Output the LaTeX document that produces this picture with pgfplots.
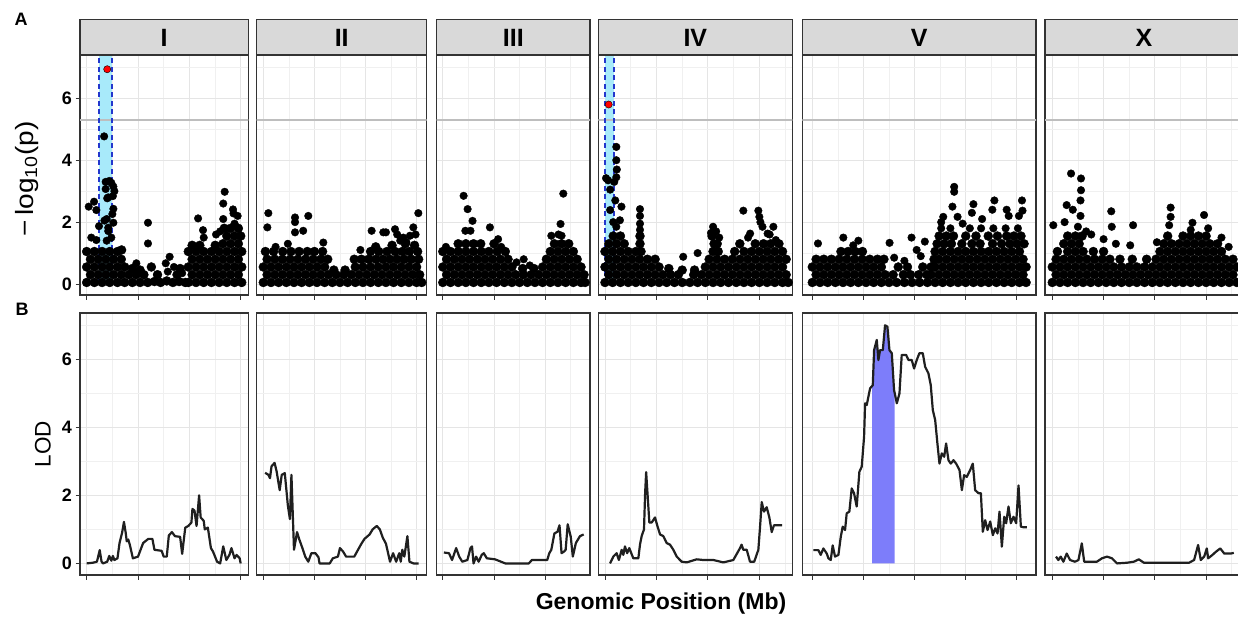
\documentclass[border=0pt]{standalone}
\usepackage{fontspec}
\setmainfont{Liberation Sans}
\usepackage{pgfplots}
\pgfplotsset{compat=1.18}
\definecolor{cyanfill}{RGB}{168,234,250}
\definecolor{dashblue}{RGB}{35,55,205}
\definecolor{lodfill}{RGB}{125,125,250}
\definecolor{thrgray}{RGB}{190,190,190}
\pgfplotsset{
 panel/.style={
  scale only axis, clip=true,
  axis line style={draw=black!80, line width=1.4pt},
  grid=both,
  major grid style={draw=black!10, line width=0.9pt},
  minor grid style={draw=black!6, line width=0.6pt},
  xtick={0,5,10,15,20}, minor xtick={2.5,7.5,12.5,17.5,22.5},
  xticklabels={,,,,,},
  ytick={0,2,4,6}, minor ytick={1,3,5,7},
  xtick pos=bottom, ytick pos=left,
  tick align=outside,
  major tick length=4.5pt, minor tick length=0pt,
  every tick/.style={draw=black!80, line width=0.9pt},
  tick label style={font=\bfseries\fontsize{18}{18}\selectfont, text=black},
 },
 toppanel/.style={panel, height=240pt, ymin=-0.355, ymax=7.4},
 botpanel/.style={panel, height=262pt, ymin=-0.34, ymax=7.35},
 firstcol/.style={yticklabels={0,2,4,6}},
 othercol/.style={ymajorticks=false},
 blob/.style={only marks, mark=*, mark size=4.5pt, mark options={draw=none, fill=black}},
 dots/.style={only marks, mark=*, mark size=3.8pt, mark options={draw=none, fill=black}},
 reddot/.style={only marks, mark=*, mark size=3.6pt, mark options={draw=none, fill=red}},
 lod/.style={mark=none, draw=black!88, line width=2.2pt, line join=round},
 thr/.style={mark=none, draw=thrgray, line width=1.8pt},
 dsh/.style={mark=none, draw=dashblue, line width=2pt, dash pattern=on 5pt off 3.5pt},
}
\newcommand{\strip}[4]{%
 \draw[fill=black!15, draw=black!80, line width=1.4pt] (#1pt,-19.5pt) rectangle (#2pt,-55pt);
 \node[font=\bfseries\fontsize{25}{25}\selectfont] at (#3pt,-37.5pt) {#4};}
\begin{document}
\begin{tikzpicture}
\path[use as bounding box] (0pt,0pt) rectangle (1238pt,-617pt);
%%%%%%%%%%%%%%%% TOP ROW %%%%%%%%%%%%%%%%
% I
\begin{axis}[toppanel, firstcol, at={(80pt,-55pt)}, anchor=north west, width=168.3pt, xmin=-0.65, xmax=15.74]
\addplot[fill=cyanfill, draw=none, mark=none] coordinates {(1.2,0)(2.5,0)(2.5,9)(1.2,9)};
\addplot[thr] coordinates {(-2,5.3)(25,5.3)};
\addplot[dsh] coordinates {(1.2,0)(1.2,9)};
\addplot[dsh] coordinates {(2.5,0)(2.5,9)};
\addplot[blob] coordinates {
(0,0.05)(0.75,0.05)(1.5,0.05)(2.25,0.05)(3,0.05)(3.7,0.05)(4.45,0.05)(5.2,0.05)(5.95,0.05)(6.6,0.08)(7.2,0.05)(7.8,0.1)(8.4,0.05)(9,0.08)(9.6,0.05)(9.9,0.05)(10.65,0.05)(11.4,0.05)(12.15,0.05)(12.9,0.05)(13.65,0.05)(14.4,0.05)(15.1,0.05)
(0.37,0.3)(1.12,0.3)(1.87,0.3)(2.62,0.3)(3.37,0.3)(4.1,0.3)(4.82,0.3)(5.57,0.3)(6.9,0.3)(8.8,0.3)(10.27,0.3)(11.02,0.3)(11.77,0.3)(12.52,0.3)(13.27,0.3)(14.02,0.3)(14.77,0.3)
(0,0.55)(0.75,0.55)(1.5,0.55)(2.25,0.55)(3,0.55)(3.7,0.55)(4.45,0.5)(5.2,0.45)(6.3,0.55)(9.1,0.5)(9.9,0.55)(10.65,0.55)(11.4,0.55)(12.15,0.55)(12.9,0.55)(13.65,0.55)(14.4,0.55)(15.1,0.55)
(0.37,0.8)(1.12,0.8)(1.87,0.8)(2.62,0.8)(3.37,0.8)(10.27,0.8)(11.02,0.8)(11.77,0.8)(12.52,0.8)(13.27,0.8)(14.02,0.8)(14.77,0.8)
(0,1.05)(0.75,1.05)(1.5,1.05)(2.25,1.05)(3,1.05)(3.4,1.1)(9.9,1.05)(10.65,1.05)(11.4,1.05)(12.15,1.05)(12.9,1.05)(13.65,1.05)(14.4,1.05)(15.1,1.05)
(10.27,1.25)(11.02,1.25)(12.52,1.25)(13.27,1.3)(14.02,1.3)(14.77,1.3)(13.65,1.55)(14.4,1.55)(15,1.55)(13.4,1.8)(14.02,1.8)(14.77,1.8)
};
\addplot[dots] coordinates {
(7.9,0.4)(9.3,0.35)(8.08,0.88)(7.7,0.67)(4.84,0.67)(5.97,1.98)(5.97,1.31)(8.5,0.55)
(0.72,2.66)(0.94,2.39)(0.2,2.5)(1.2,1.87)(0.45,1.5)(0.94,1.42)(1.7,4.77)(1.85,3.3)(2.2,3.33)(2.4,3.27)(2.6,3.15)(2.7,3)(2.55,2.84)(2.1,2.8)(1.85,3.07)(2,2.77)(2.6,2.43)(2.5,2.26)(1.95,2.1)(1.73,2.05)(2.1,1.82)(2.6,1.98)(2.1,1.71)(1.95,1.4)(2.4,1.5)(10.85,2.12)(11.33,1.74)(11.4,1.5)(13.44,2.98)(13.3,2.6)(14.25,2.41)(14.3,2.28)(13.3,2.1)(14.4,1.95)(14.7,2.2)(12.6,1.6)(13,1.7)
};
\addplot[reddot] coordinates {(2.0,6.94)};
\end{axis}
% II
\begin{axis}[toppanel, othercol, at={(256.7pt,-55pt)}, anchor=north west, width=170pt, xmin=-0.65, xmax=15.99]
\addplot[thr] coordinates {(-2,5.3)(25,5.3)};
\addplot[blob] coordinates {
(0,0.05)(0.75,0.05)(1.5,0.05)(2.25,0.05)(3,0.05)(3.75,0.05)(4.5,0.05)(5.25,0.05)(6,0.05)(6.75,0.05)(7.5,0.05)(8.25,0.05)(9,0.05)(9.75,0.05)(10.5,0.05)(11.25,0.05)(12,0.05)(12.75,0.05)(13.5,0.05)(14.25,0.05)(15,0.05)(15.5,0.05)
(0.37,0.3)(1.12,0.3)(1.87,0.3)(2.62,0.3)(3.37,0.3)(4.12,0.3)(4.87,0.3)(5.62,0.3)(6.37,0.3)(7.12,0.3)(7.87,0.3)(8.62,0.3)(9.37,0.3)(10.12,0.3)(10.87,0.3)(11.62,0.3)(12.37,0.3)(13.12,0.3)(13.87,0.3)(14.62,0.3)(15.3,0.3)
(0,0.55)(0.75,0.55)(1.5,0.55)(2.25,0.55)(3,0.55)(3.75,0.55)(4.5,0.55)(5.25,0.55)(6,0.55)(6.9,0.45)(8,0.45)(9,0.55)(9.75,0.55)(10.5,0.55)(11.25,0.55)(12,0.55)(12.75,0.55)(13.5,0.55)(14.25,0.55)(15,0.55)
(0.37,0.8)(1.12,0.8)(1.87,0.8)(2.62,0.8)(3.37,0.8)(4.12,0.8)(4.87,0.8)(5.62,0.8)(6.3,0.8)(8.9,0.8)(9.6,0.8)(10.3,0.8)(11,0.8)(11.7,0.8)(12.4,0.8)(13.1,0.8)(13.8,0.8)(14.5,0.8)(15.2,0.8)
(0.2,1.05)(1,1.05)(1.9,1.05)(2.7,1.05)(3.5,1.05)(4.3,1.05)(5,1.05)(5.8,1.05)(10.5,1.05)(11.3,1.05)(12.1,1.05)(12.9,1.05)(13.6,1.05)(14.3,1.05)(15.1,1.05)
(11,1.2)(12.6,1.25)(13.9,1.3)(14.8,1.25)
};
\addplot[dots] coordinates {
(0.49,2.29)(0.39,1.83)(3.1,2.15)(3.1,2)(3.1,1.67)(3.9,1.72)(4.4,2.2)(5.87,1.34)(2.4,1.3)(1.2,1.2)(10.6,1.72)(11.74,1.67)(12,1.67)(12.89,1.77)(13.1,1.6)(13.7,1.5)(14.35,1.56)(14.68,1.83)(14.9,1.6)(15.17,2.29)(13.4,1.4)(14,1.35)(9.5,1.1)
};
\end{axis}
% III
\begin{axis}[toppanel, othercol, at={(436.7pt,-55pt)}, anchor=north west, width=153.3pt, xmin=-0.6, xmax=14.38]
\addplot[thr] coordinates {(-2,5.3)(25,5.3)};
\addplot[blob] coordinates {
(0,0.05)(0.75,0.05)(1.5,0.05)(2.25,0.05)(3,0.05)(3.75,0.05)(4.5,0.05)(5.25,0.05)(6,0.05)(6.75,0.05)(7.5,0.05)(8.25,0.05)(9,0.05)(9.75,0.05)(10.5,0.05)(11.25,0.05)(12,0.05)(12.75,0.05)(13.5,0.05)(13.9,0.05)
(0.37,0.3)(1.12,0.3)(1.87,0.3)(2.62,0.3)(3.37,0.3)(4.12,0.3)(4.87,0.3)(5.62,0.3)(6.37,0.3)(7.12,0.3)(7.87,0.3)(8.62,0.3)(9.37,0.3)(10.12,0.3)(10.87,0.3)(11.62,0.3)(12.37,0.3)(13.12,0.3)(13.8,0.3)
(0,0.55)(0.75,0.55)(1.5,0.55)(2.25,0.55)(3,0.55)(3.75,0.55)(4.5,0.55)(5.25,0.55)(6,0.55)(6.75,0.55)(7.8,0.5)(8.9,0.5)(9.75,0.55)(10.5,0.55)(11.25,0.55)(12,0.55)(12.75,0.55)(13.5,0.55)
(0.37,0.8)(1.12,0.8)(1.87,0.8)(2.62,0.8)(3.37,0.8)(4.12,0.8)(4.87,0.8)(5.62,0.8)(6.37,0.8)(10.12,0.8)(10.87,0.8)(11.62,0.8)(12.37,0.8)(13.12,0.8)
(0,1.05)(0.75,1.05)(1.5,1.05)(2.25,1.05)(3,1.05)(3.75,1.05)(4.5,1.05)(5.3,1.05)(6.1,1.05)(10.5,1.05)(11.25,1.05)(12,1.05)(12.75,1.05)
(1.5,1.3)(2.25,1.3)(3,1.3)(3.7,1.3)(5,1.3)(10.9,1.3)(11.6,1.3)(12.3,1.3)
};
\addplot[dots] coordinates {
(2.03,2.85)(2.42,2.42)(2.9,2.04)(2.7,1.72)(2.2,1.72)(4.6,1.83)(5.4,1.45)(5.7,1.2)(7.9,0.8)(11.77,2.92)(11.5,1.94)(10.6,1.56)(11.6,1.56)(11.3,1.6)(0.3,1.2)(8.5,0.6)(7.2,0.7)
};
\end{axis}
% IV
\begin{axis}[toppanel, othercol, at={(598.3pt,-55pt)}, anchor=north west, width=194pt, xmin=-0.65, xmax=18.2]
\addplot[fill=cyanfill, draw=none, mark=none] coordinates {(0.03,0)(0.9,0)(0.9,9)(0.03,9)};
\addplot[thr] coordinates {(-2,5.3)(25,5.3)};
\addplot[dsh] coordinates {(0.03,0)(0.03,9)};
\addplot[dsh] coordinates {(0.9,0)(0.9,9)};
\addplot[blob] coordinates {
(0,0.05)(0.75,0.05)(1.5,0.05)(2.25,0.05)(3,0.05)(3.75,0.05)(4.5,0.05)(5.25,0.05)(6,0.05)(6.75,0.05)(7.5,0.05)(8.25,0.05)(9,0.05)(9.75,0.05)(10.5,0.05)(11.25,0.05)(12,0.05)(12.75,0.05)(13.5,0.05)(14.25,0.05)(15,0.05)(15.75,0.05)(16.5,0.05)(17.25,0.05)(17.8,0.05)
(0.37,0.3)(1.12,0.3)(1.87,0.3)(2.62,0.3)(3.37,0.3)(4.12,0.3)(4.87,0.3)(5.62,0.3)(6.37,0.3)(7.12,0.3)(8.62,0.3)(9.37,0.3)(10.12,0.3)(10.87,0.3)(11.62,0.3)(12.37,0.3)(13.12,0.3)(13.87,0.3)(14.62,0.3)(15.37,0.3)(16.12,0.3)(16.87,0.3)(17.6,0.3)
(0,0.55)(0.75,0.55)(1.5,0.55)(2.25,0.55)(3,0.55)(3.75,0.55)(4.5,0.55)(5.25,0.55)(6.2,0.5)(7.5,0.45)(8.7,0.45)(9.75,0.55)(10.5,0.55)(11.25,0.55)(12,0.55)(12.75,0.55)(13.5,0.55)(14.25,0.55)(15,0.55)(15.75,0.55)(16.5,0.55)(17.25,0.55)
(0.37,0.8)(1.12,0.8)(1.87,0.8)(2.62,0.8)(3.37,0.8)(4.12,0.8)(4.87,0.8)(10.12,0.8)(10.87,0.8)(11.62,0.8)(12.37,0.8)(13.12,0.8)(13.87,0.8)(14.62,0.8)(15.37,0.8)(16.12,0.8)(16.87,0.8)(17.6,0.8)
(0,1.05)(0.75,1.05)(1.5,1.05)(2.25,1.05)(3,1.05)(3.5,1.05)(10.5,1.05)(11,1.05)(12.6,1.05)(13.5,1.05)(14.25,1.05)(15,1.05)(15.75,1.05)(16.5,1.05)(17.25,1.05)
(0.37,1.3)(1.12,1.3)(1.87,1.3)(3.4,1.3)(10.6,1.3)(10.9,1.3)(13.1,1.3)(14.6,1.3)(15.4,1.3)(16.1,1.3)(16.9,1.3)
(0.8,1.55)(1.5,1.55)(3.4,1.55)(10.4,1.55)
};
\addplot[dots] coordinates {
(0.3,3.35)(0.5,3.05)(1.1,4.43)(1.1,4)(1.15,3.7)(1.1,3.45)(0.9,3.3)(0.1,3.42)(0.5,2.39)(1,2.7)(1.6,2.5)(1.45,2.06)(1.1,1.85)(0.8,2)(3.4,2.42)(3.4,2.2)(3.4,1.95)(3.4,1.75)(7.6,0.88)(9,1)(10.5,1.85)(10.8,1.7)(10.3,1.65)(11.1,1.5)(13.44,2.37)(14.9,2.37)(15,2.17)(15.1,2)(15.3,1.85)(16.36,1.85)(15.8,1.63)(16.6,1.42)(14.1,1.63)(13.9,1.5)(16,1.6)
};
\addplot[reddot] coordinates {(0.36,5.8)};
\end{axis}
% V
\begin{axis}[toppanel, othercol, at={(802.3pt,-55pt)}, anchor=north west, width=233.7pt, xmin=-0.98, xmax=21.87]
\addplot[thr] coordinates {(-2,5.3)(25,5.3)};
\addplot[blob] coordinates {
(0,0.05)(0.75,0.05)(1.5,0.05)(2.25,0.05)(3,0.05)(3.75,0.05)(4.5,0.05)(5.25,0.05)(6,0.05)(6.75,0.05)(7.5,0.05)(8.25,0.05)(9,0.05)(9.75,0.05)(10.5,0.05)(11.25,0.05)(12,0.05)(12.75,0.05)(13.5,0.05)(14.25,0.05)(15,0.05)(15.75,0.05)(16.5,0.05)(17.25,0.05)(18,0.05)(18.75,0.05)(19.5,0.05)(20.25,0.05)(20.9,0.05)
(0.37,0.3)(1.12,0.3)(1.87,0.3)(2.62,0.3)(3.37,0.3)(4.12,0.3)(4.87,0.3)(5.62,0.3)(6.37,0.3)(7.12,0.3)(7.9,0.3)(8.9,0.3)(9.6,0.3)(10.4,0.3)(11.2,0.3)(11.62,0.3)(12.37,0.3)(13.12,0.3)(13.87,0.3)(14.62,0.3)(15.37,0.3)(16.12,0.3)(16.87,0.3)(17.62,0.3)(18.37,0.3)(19.12,0.3)(19.87,0.3)(20.6,0.3)
(0,0.55)(0.75,0.55)(1.5,0.55)(2.25,0.55)(3,0.55)(3.75,0.55)(4.5,0.55)(5.25,0.55)(6,0.55)(6.75,0.55)(8.4,0.55)(9.3,0.55)(10.8,0.55)(11.6,0.55)(12,0.55)(12.75,0.55)(13.5,0.55)(14.25,0.55)(15,0.55)(15.75,0.55)(16.5,0.55)(17.25,0.55)(18,0.55)(18.75,0.55)(19.5,0.55)(20.25,0.55)(20.9,0.55)
(0.37,0.8)(1.12,0.8)(1.87,0.8)(2.62,0.8)(3.37,0.8)(4.12,0.8)(4.87,0.8)(5.62,0.8)(6.37,0.8)(7,0.8)(11.9,0.8)(12.37,0.8)(13.12,0.8)(13.87,0.8)(14.62,0.8)(15.37,0.8)(16.12,0.8)(16.87,0.8)(17.62,0.8)(18.37,0.8)(19.12,0.8)(19.87,0.8)(20.6,0.8)
(2.8,1.05)(3.5,1.05)(4.2,1.05)(4.9,1.05)(12,1.05)(12.75,1.05)(13.5,1.05)(14.25,1.05)(15,1.05)(15.75,1.05)(16.5,1.05)(17.25,1.05)(18,1.05)(18.75,1.05)(19.5,1.05)(20.25,1.05)
(12.2,1.3)(12.9,1.3)(13.6,1.3)(14.62,1.3)(15.6,1.3)(16.4,1.3)(17.62,1.3)(18.5,1.3)(19.3,1.3)(20,1.3)(20.7,1.3)
(12.4,1.55)(13.1,1.55)(13.8,1.55)(15,1.55)(16,1.55)(17.2,1.55)(18.1,1.55)(19,1.55)(19.7,1.55)(20.4,1.55)
};
\addplot[dots] coordinates {
(12.6,1.8)(13.5,1.8)(15.4,1.8)(16.5,1.8)(17.7,1.8)(18.9,1.8)(20.1,1.8)
(0.55,1.31)(3.03,1.5)(4.5,1.4)(4,1.25)(7.55,1.33)(9.7,1.5)(11,1.37)(10.2,1.1)(8,0.85)(9,0.75)(10.6,0.9)(12.8,2.17)(12.6,2)(13.87,3.14)(13.87,2.98)(13.7,2.5)(14.2,2.17)(15.75,2.58)(15.6,2.3)(17.8,2.7)(17.6,2.4)(19,2.4)(20.5,2.7)(20.55,2.37)(20.2,2.2)(19.2,2.2)(16.6,2.1)(14.7,1.95)
};
\end{axis}
% X
\begin{axis}[toppanel, othercol, at={(1045pt,-55pt)}, anchor=north west, width=198pt, xmin=-0.71, xmax=18.6]
\addplot[thr] coordinates {(-2,5.3)(25,5.3)};
\addplot[blob] coordinates {
(0,0.05)(0.75,0.05)(1.5,0.05)(2.25,0.05)(3,0.05)(3.75,0.05)(4.5,0.05)(5.25,0.05)(6,0.05)(6.75,0.05)(7.5,0.05)(8.25,0.05)(9,0.05)(9.75,0.05)(10.5,0.05)(11.25,0.05)(12,0.05)(12.75,0.05)(13.5,0.05)(14.25,0.05)(15,0.05)(15.75,0.05)(16.5,0.05)(17.25,0.05)(18,0.05)
(0.37,0.3)(1.12,0.3)(1.87,0.3)(2.62,0.3)(3.37,0.3)(4.12,0.3)(4.87,0.3)(5.62,0.3)(6.37,0.3)(7.12,0.3)(7.87,0.3)(8.62,0.3)(9.37,0.3)(10.12,0.3)(10.87,0.3)(11.62,0.3)(12.37,0.3)(13.12,0.3)(13.87,0.3)(14.62,0.3)(15.37,0.3)(16.12,0.3)(16.87,0.3)(17.62,0.3)
(0,0.55)(0.75,0.55)(1.5,0.55)(2.25,0.55)(3,0.55)(3.75,0.55)(4.5,0.55)(5.25,0.55)(6,0.55)(6.75,0.55)(7.5,0.55)(8.25,0.55)(9,0.55)(9.75,0.55)(10.5,0.55)(11.25,0.55)(12,0.55)(12.75,0.55)(13.5,0.55)(14.25,0.55)(15,0.55)(15.75,0.55)(16.5,0.55)(17.25,0.55)(18,0.55)
(0.37,0.8)(1.12,0.8)(1.87,0.8)(2.62,0.8)(3.37,0.8)(4.12,0.8)(4.87,0.8)(5.62,0.8)(6.6,0.8)(7.8,0.8)(9.2,0.8)(10.12,0.8)(10.87,0.8)(11.62,0.8)(12.37,0.8)(13.12,0.8)(13.87,0.8)(14.62,0.8)(15.37,0.8)(16.12,0.8)(16.87,0.8)(17.62,0.8)
(0.5,1.05)(1.5,1.05)(2.25,1.05)(3,1.05)(4,1.05)(5,1.05)(10.5,1.05)(11.25,1.05)(12,1.05)(12.75,1.05)(13.5,1.05)(14.25,1.05)(15,1.05)(15.75,1.05)(16.5,1.05)
(1.12,1.3)(1.87,1.3)(2.62,1.3)(10.87,1.3)(11.62,1.3)(12.37,1.3)(13.12,1.3)(13.87,1.3)(14.62,1.3)(15.37,1.3)(16.12,1.3)
(1.5,1.55)(2.25,1.55)(2.9,1.55)(11.25,1.55)(12.75,1.55)(13.5,1.55)(14.25,1.55)(15,1.55)
};
\addplot[dots] coordinates {
(1.83,3.57)(2.8,3.41)(2.8,3.03)(2.75,2.7)(2.75,2.2)(1.4,2.55)(2,2.4)(0.1,1.9)(1.2,2)(2.5,1.85)(3.3,1.7)(3.8,1.6)(5.75,2.35)(5.8,1.85)(5,1.45)(6.2,1.3)(7.88,1.9)(7.6,1.25)(11.54,2.47)(11.54,2.17)(11.4,1.9)(13.67,1.98)(14.8,2.23)(13.5,1.75)(15.2,1.8)(10.2,1.35)(16.5,1.5)(17.2,1.2)
};
\end{axis}
\strip{80}{248.3}{164.2}{I}
\strip{256.7}{426.7}{341.7}{II}
\strip{436.7}{590}{513.3}{III}
\strip{598.3}{792.3}{695.3}{IV}
\strip{802.3}{1036}{919.2}{V}
\strip{1045}{1243}{1144}{X}
%%%%%%%%%%%%%%%% BOTTOM ROW %%%%%%%%%%%%%%%%
\begin{axis}[botpanel, firstcol, at={(80pt,-313pt)}, anchor=north west, width=168.3pt, xmin=-0.65, xmax=15.74]
\addplot[lod] coordinates {(0,0)(0.6,0.02)(1,0.05)(1.27,0.39)(1.45,0.05)(1.6,0)(2,0.05)(2.2,0.22)(2.4,0.08)(2.55,0.22)(2.7,0.1)(3,0.15)(3.2,0.6)(3.45,0.9)(3.63,1.22)(3.8,0.9)(3.9,0.65)(4.05,0.7)(4.2,0.55)(4.5,0.15)(5,0.2)(5.5,0.6)(6,0.72)(6.4,0.72)(6.6,0.4)(7.3,0.37)(7.5,0.2)(7.8,0.2)(8,0.82)(8.3,0.92)(8.6,0.8)(9.1,0.78)(9.3,0.28)(9.6,1.05)(9.9,1.1)(10.2,1.2)(10.3,1.6)(10.5,1.55)(10.7,1.1)(10.95,2)(11.1,1.35)(11.4,1.25)(11.5,1)(11.8,1.05)(12.1,0.45)(12.3,0.35)(12.7,0.05)(13,0)(13.3,0.5)(13.6,0.1)(13.9,0.25)(14.1,0.45)(14.4,0.15)(14.6,0.25)(14.9,0.15)(15,0)};
\end{axis}
\begin{axis}[botpanel, othercol, at={(256.7pt,-313pt)}, anchor=north west, width=170pt, xmin=-0.65, xmax=15.99]
\addplot[lod] coordinates {(0.17,2.66)(0.5,2.6)(0.65,2.5)(0.8,2.85)(1.1,2.95)(1.3,2.7)(1.6,2.15)(1.8,2.6)(2.1,2.65)(2.4,1.7)(2.6,1.3)(2.75,2.6)(3,0.4)(3.3,0.92)(3.5,0.72)(3.8,0.47)(4.1,0.2)(4.4,0.05)(4.7,0.3)(5.1,0.3)(5.4,0.18)(5.5,0)(6.5,0)(6.8,0.15)(7.3,0.2)(7.5,0.45)(7.8,0.35)(8.1,0.2)(8.9,0.2)(9.6,0.58)(9.9,0.72)(10.4,0.85)(10.7,1)(11.1,1.1)(11.4,1)(11.7,0.75)(12,0.58)(12.4,0.05)(12.7,0.3)(13,0.05)(13.3,0.3)(13.45,0.05)(13.6,0.4)(13.8,0.2)(14.1,0.8)(14.3,0.05)(14.7,0)(15.2,0)};
\end{axis}
\begin{axis}[botpanel, othercol, at={(436.7pt,-313pt)}, anchor=north west, width=153.3pt, xmin=-0.6, xmax=14.38]
\addplot[lod] coordinates {(0.1,0.32)(0.6,0.3)(0.9,0.1)(1.3,0.45)(1.6,0.2)(1.9,0.05)(2.4,0.1)(2.7,0.45)(2.85,0.5)(3,0)(3.25,0.2)(3.5,0.05)(3.8,0.25)(4,0.3)(4.3,0.15)(5.1,0.12)(6.1,0)(8.4,0)(8.7,0.1)(10.2,0.1)(10.4,0.3)(10.6,0.4)(10.9,0.88)(11.2,0.93)(11.4,1.12)(11.6,0.3)(11.85,0.35)(12,0.4)(12.2,1.15)(12.5,0.78)(12.7,0.2)(13,0.6)(13.4,0.8)(13.76,0.85)};
\end{axis}
\begin{axis}[botpanel, othercol, at={(598.3pt,-313pt)}, anchor=north west, width=194pt, xmin=-0.65, xmax=18.2]
\addplot[lod] coordinates {(0.49,0)(0.81,0.2)(1.13,0.3)(1.35,0.1)(1.62,0.4)(1.78,0.25)(1.94,0.5)(2.15,0.3)(2.36,0.45)(2.75,0.15)(3.24,0.15)(3.4,0.55)(3.56,0.8)(3.79,1)(3.9,2.07)(4,2.68)(4.11,2.15)(4.31,1.2)(4.54,1.2)(4.86,1.35)(5.09,1.1)(5.35,0.85)(5.67,0.8)(5.99,0.6)(6.32,0.55)(6.64,0.4)(6.97,0.2)(7.45,0.05)(7.94,0.03)(8.91,0.12)(9.56,0.1)(10.53,0.1)(11.5,0.03)(12.47,0.1)(13.12,0.45)(13.27,0.55)(13.44,0.4)(13.77,0.4)(14.09,0.05)(14.5,0.05)(14.9,0.4)(15.06,1.05)(15.23,1.8)(15.45,1.52)(15.71,1.65)(15.97,1.35)(16.2,0.92)(16.42,1.12)(16.75,1.12)(17.2,1.12)};
\end{axis}
\begin{axis}[botpanel, othercol, at={(802.3pt,-313pt)}, anchor=north west, width=233.7pt, xmin=-0.98, xmax=21.87]
\addplot[fill=lodfill, draw=none, mark=none] coordinates {(5.85,0)(5.85,5.2)(5.91,5.23)(6.04,6.26)(6.3,6.56)(6.46,5.97)(6.62,6.26)(6.89,6.26)(7.11,6.99)(7.34,6.95)(7.54,6.26)(7.77,6.17)(7.99,5.09)(8.05,5.0)(8.05,0)};
\addplot[lod] coordinates {(0.1,0.39)(0.59,0.39)(0.82,0.25)(1.08,0.44)(1.41,0.29)(1.57,0.15)(1.8,0.1)(1.99,0.53)(2.22,0.2)(2.55,0.25)(2.78,0.78)(2.97,1.08)(3.2,0.98)(3.36,1.47)(3.62,1.52)(3.85,2.2)(4.08,2.06)(4.34,1.67)(4.6,2.69)(4.83,2.84)(5.06,3.72)(5.16,4.7)(5.32,4.65)(5.48,4.89)(5.65,5.14)(5.91,5.23)(6.04,6.26)(6.3,6.56)(6.46,5.97)(6.62,6.26)(6.89,6.26)(7.11,6.99)(7.34,6.95)(7.54,6.26)(7.77,6.17)(7.99,5.09)(8.26,4.7)(8.52,4.99)(8.74,6.12)(9.17,6.12)(9.4,5.97)(9.72,5.97)(9.95,5.72)(10.21,5.97)(10.47,6.17)(10.8,6.17)(11.03,5.77)(11.35,5.58)(11.58,5.23)(11.78,4.5)(12.01,4.21)(12.23,3.52)(12.43,2.93)(12.66,3.23)(12.89,3.13)(13.08,3.52)(13.31,3.03)(13.54,2.93)(13.8,3.03)(14.06,2.93)(14.39,2.74)(14.62,2.15)(14.84,2.59)(15.1,2.54)(15.43,2.74)(15.69,2.93)(15.92,2.15)(16.25,2.06)(16.48,2.06)(16.67,0.93)(16.9,1.27)(17.13,0.98)(17.39,1.23)(17.65,0.83)(17.88,1.03)(18.11,0.88)(18.3,1.52)(18.53,0.49)(18.76,1.37)(18.95,1.18)(19.18,1.67)(19.41,1.18)(19.67,1.37)(19.93,1.18)(20.16,2.29)(20.39,1.08)(20.65,1.06)(20.98,1.06)};
\end{axis}
\begin{axis}[botpanel, othercol, at={(1045pt,-313pt)}, anchor=north west, width=198pt, xmin=-0.71, xmax=18.6]
\addplot[lod] coordinates {(0.36,0.2)(0.59,0.1)(0.82,0.2)(1.08,0.05)(1.41,0.29)(1.73,0.1)(2.22,0.05)(2.55,0.1)(2.88,0.59)(3.11,0.05)(3.7,0.05)(4.35,0.05)(4.84,0.15)(5.33,0.2)(5.82,0.15)(6.31,0)(7.29,0.02)(7.95,0.05)(8.44,0.12)(8.93,0.02)(10.56,0.02)(11.87,0.02)(13.34,0.02)(13.83,0.1)(14.22,0.54)(14.48,0.1)(14.81,0.2)(15.07,0.44)(15.2,0.15)(15.62,0.25)(15.95,0.34)(16.38,0.44)(16.77,0.29)(17.42,0.29)(17.7,0.31)};
\end{axis}
%%%%%%%%%%%%%%%% LABELS %%%%%%%%%%%%%%%%
\node[font=\bfseries\fontsize{18}{18}\selectfont] at (21pt,-19pt) {A};
\node[font=\bfseries\fontsize{18}{18}\selectfont] at (22pt,-309pt) {B};
\node[rotate=90, font=\fontsize{25}{25}\selectfont] at (27pt,-179pt) {\scalebox{1.12}[1]{−\,log\textsubscript{10}(p)}};
\node[rotate=90, font=\fontsize{22.5}{22.5}\selectfont] at (43pt,-444pt) {LOD};
\node[font=\bfseries\fontsize{23}{23}\selectfont] at (661pt,-604pt) {Genomic Position (Mb)};
\end{tikzpicture}
\end{document}
